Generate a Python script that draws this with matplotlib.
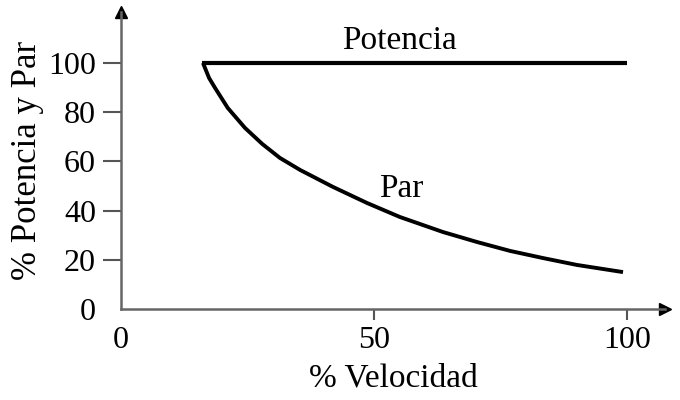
import matplotlib.pyplot as plt

plt.rcParams['font.family'] = ['Liberation Serif', 'DejaVu Serif']

# data
potencia_x = [16, 100]
potencia_y = [100, 100]

par_x = [16.2, 17.4, 18.6, 21.1, 24.5, 27.9, 31.4, 35.4, 41.9, 48.6, 55.1,
         63.6, 70.4, 76.9, 83.4, 90.1, 99.2]
par_y = [100, 93.9, 89.8, 81.7, 73.6, 67.1, 61.4, 56.5, 49.6, 43.1, 37.4,
         31.3, 27.2, 23.6, 20.7, 17.9, 15.0]

yticks = [0, 20, 40, 60, 80, 100]
xticks = [0, 50, 100]

fig = plt.figure(figsize=(6.8, 4.0), dpi=100)
ax = fig.add_axes([121 / 680, 91 / 400, (665 - 121) / 680, (309 - 12) / 400])

ax.plot(potencia_x, potencia_y, color='black', lw=3.0, solid_capstyle='butt')
ax.plot(par_x, par_y, color='black', lw=2.8, solid_capstyle='butt', solid_joinstyle='round')

ax.text(55, 109, 'Potencia', fontsize=24, ha='center', va='center')
ax.text(55.3, 49, 'Par', fontsize=24, ha='center', va='center')

ax.set_xlim(0, 107.5)
ax.set_ylim(0, 120.7)
ax.set_xticks(xticks)
ax.set_yticks(yticks)
ax.tick_params(axis='both', labelsize=23, colors='#555555', width=1.5, labelcolor='black')
ax.tick_params(axis='y', length=13, pad=5)
ax.tick_params(axis='x', length=8, pad=4)
ax.xaxis.get_major_ticks()[0].tick1line.set_visible(False)
ax.yaxis.get_major_ticks()[0].tick1line.set_visible(False)

for side in ['top', 'right']:
    ax.spines[side].set_visible(False)
for side in ['left', 'bottom']:
    ax.spines[side].set_color('#666666')
    ax.spines[side].set_linewidth(1.8)

# arrow heads on the axes
ax.plot(1, 0, marker='>', color='black', ms=9, transform=ax.transAxes, clip_on=False)
ax.plot(0, 1, marker='^', color='black', ms=9, transform=ax.transAxes, clip_on=False)

ax.set_xlabel('% Velocidad', fontsize=24, labelpad=6)
ax.set_ylabel('% Potencia y Par', fontsize=25, labelpad=3)

fig.savefig('out.png', dpi=100)
